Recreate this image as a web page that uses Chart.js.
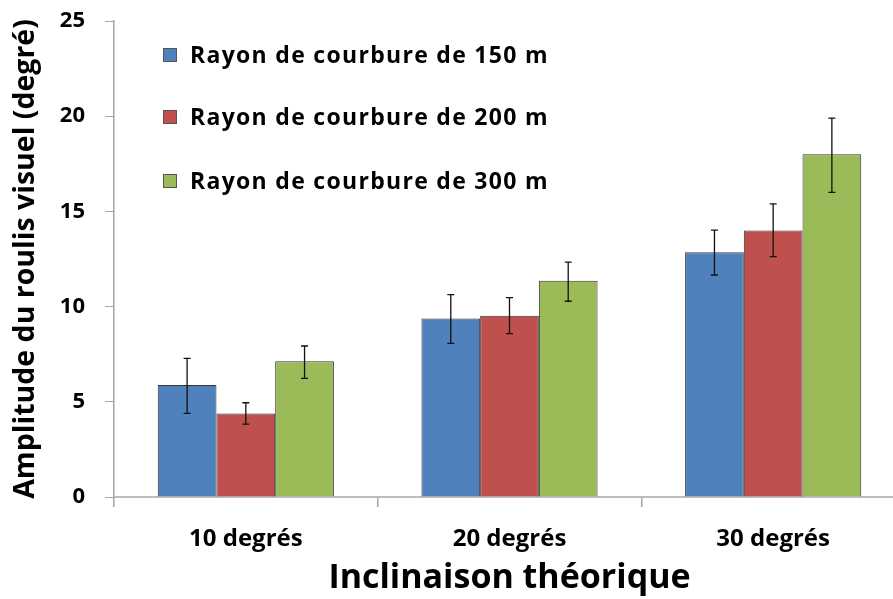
<!DOCTYPE html>
<html>
<head>
<meta charset="utf-8">
<script src="https://cdn.jsdelivr.net/npm/chart.js@4"></script>
<style>
  html, body { margin: 0; padding: 0; background: #fff; overflow: hidden; }
</style>
</head>
<body>
<canvas id="myChart" width="912" height="599"></canvas>
<script>
// Data
var categories = ['10 degrés', '20 degrés', '30 degrés'];
var seriesLabels = ['Rayon de courbure de 150 m', 'Rayon de courbure de 200 m', 'Rayon de courbure de 300 m'];
var r150 = [5.88, 9.37, 12.85];
var r200 = [4.39, 9.52, 14.0];
var r300 = [7.13, 11.36, 18.0];
// error bars, low and high ends
var r150Low = [4.39, 8.07, 11.66];
var r150High = [7.28, 10.63, 14.02];
var r200Low = [3.83, 8.58, 12.62];
var r200High = [4.95, 10.47, 15.4];
var r300Low = [6.23, 10.28, 16.0];
var r300High = [7.93, 12.34, 19.9];
var yTicks = [0, 5, 10, 15, 20, 25];

var colors = ['#4F81BD', '#C0504D', '#9BBB59'];
var fontFamily = '"Open Sans", Lato, sans-serif';

// draws error bars with the bar positions and the y scale
var errorBars = {
  id: 'errorBars',
  afterDatasetsDraw: function(chart) {
    var ctx = chart.ctx;
    var y = chart.scales.y;
    var lows = [r150Low, r200Low, r300Low];
    var highs = [r150High, r200High, r300High];
    ctx.save();
    ctx.strokeStyle = '#111';
    ctx.lineWidth = 1.3;
    chart.data.datasets.forEach(function(ds, i) {
      var meta = chart.getDatasetMeta(i);
      meta.data.forEach(function(bar, j) {
        var yl = y.getPixelForValue(lows[i][j]);
        var yh = y.getPixelForValue(highs[i][j]);
        ctx.beginPath();
        ctx.moveTo(bar.x, yl); ctx.lineTo(bar.x, yh);
        ctx.moveTo(bar.x - 3.5, yl); ctx.lineTo(bar.x + 3.5, yl);
        ctx.moveTo(bar.x - 3.5, yh); ctx.lineTo(bar.x + 3.5, yh);
        ctx.stroke();
      });
    });
    ctx.restore();
  }
};

// legend inside the plot, one item per line
var innerLegend = {
  id: 'innerLegend',
  afterDraw: function(chart) {
    var ctx = chart.ctx;
    var x0 = chart.chartArea.left + 49;
    var rows = [55, 117, 181];
    ctx.save();
    ctx.font = 'bold 23px ' + fontFamily;
    ctx.letterSpacing = '1.3px';
    ctx.textBaseline = 'middle';
    chart.data.datasets.forEach(function(ds, i) {
      ctx.fillStyle = ds.backgroundColor;
      ctx.fillRect(x0, rows[i] - 7, 14, 14);
      ctx.strokeStyle = '#555';
      ctx.lineWidth = 1;
      ctx.strokeRect(x0 + 0.5, rows[i] - 6.5, 13, 13);
      ctx.fillStyle = '#000';
      ctx.fillText(ds.label, x0 + 27, rows[i] + 1);
    });
    ctx.restore();
  }
};

var ctx = document.getElementById('myChart').getContext('2d');
var myChart = new Chart(ctx, {
  type: 'bar',
  data: {
    labels: categories,
    datasets: [
      { label: seriesLabels[0], data: r150, backgroundColor: colors[0] },
      { label: seriesLabels[1], data: r200, backgroundColor: colors[1] },
      { label: seriesLabels[2], data: r300, backgroundColor: colors[2] }
    ]
  },
  options: {
    responsive: false,
    animation: false,
    datasets: {
      bar: {
        categoryPercentage: 0.668,
        barPercentage: 1,
        borderColor: 'rgba(0,0,0,0.8)',
        borderWidth: 1
      }
    },
    layout: { padding: { left: 0, right: 7, top: 21, bottom: 0 } },
    plugins: {
      legend: { display: false },
      tooltip: { enabled: false }
    },
    scales: {
      x: {
        afterFit: function(scale) { scale.height = 102; },
        grid: { offset: true, drawOnChartArea: false, tickLength: 10, color: '#a6a6a6', lineWidth: 1.5 },
        border: { color: '#bdbdbd', width: 2 },
        ticks: { color: '#000', padding: 18, font: { family: fontFamily, size: 24, weight: 'bold' } },
        title: {
          display: true, text: 'Inclinaison théorique', color: '#000',
          font: { family: fontFamily, size: 34, weight: 'bold' }, padding: { top: -2, bottom: 0 }
        }
      },
      y: {
        min: 0, max: 25,
        afterFit: function(scale) { scale.width = 114; scale.paddingTop = 5; },
        afterBuildTicks: function(scale) { scale.ticks = yTicks.map(function(v) { return { value: v }; }); },
        grid: { drawOnChartArea: false, tickLength: 9, color: '#a6a6a6' },
        border: { color: '#a6a6a6', width: 1.5 },
        ticks: { color: '#000', padding: 20, font: { family: fontFamily, size: 22, weight: 'bold' } },
        title: {
          display: true, text: 'Amplitude du roulis visuel (degré)', color: '#000',
          font: { family: fontFamily, size: 28.5, weight: 'bold' }, padding: { top: 9, bottom: 0 }
        }
      }
    }
  },
  plugins: [errorBars, innerLegend]
});
</script>
</body>
</html>
